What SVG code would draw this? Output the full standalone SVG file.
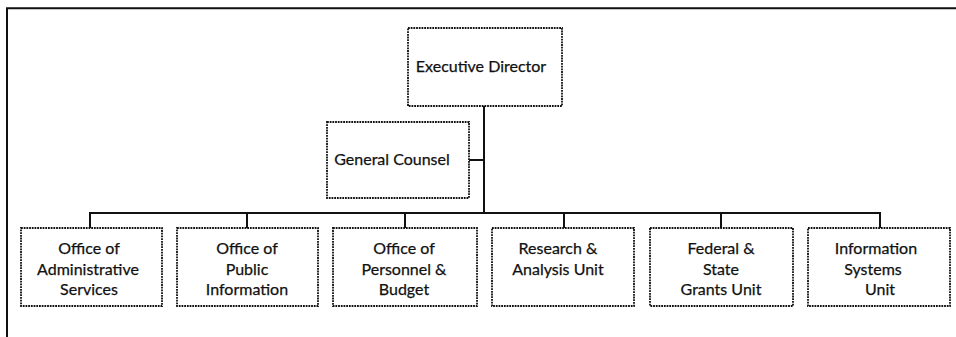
<svg xmlns="http://www.w3.org/2000/svg" width="956" height="337" viewBox="0 0 956 337">
<style>
.box{fill:#fff;stroke:#111;stroke-width:1.8;stroke-dasharray:1.8 0.9}
.ln{fill:none;stroke:#111;stroke-width:2}
text{font-family:Lato,"Open Sans","Liberation Sans",sans-serif;font-size:16px;fill:#111;stroke:#111;stroke-width:0.25;text-anchor:middle}
</style>
<rect width="956" height="337" fill="#fff"/>
<g id="frame"><path class="ln" d="M7,337 V8.3 H956" stroke-width="2.2"/></g>
<g id="connectors">
<path class="ln" d="M484,106 V213"/>
<path class="ln" d="M469,160 H484"/>
<path class="ln" d="M90,228 V213 H880 V228"/>
<path class="ln" d="M247,213 V228 M405,213 V228 M564,213 V228 M721,213 V228"/>
</g>
<g id="executive-director"><rect class="box" x="408" y="28" width="154" height="78"/><text x="481" y="72">Executive Director</text></g>
<g id="general-counsel"><rect class="box" x="327" y="122" width="142" height="76"/><text x="392" y="165">General Counsel</text></g>
<g id="admin-services"><rect class="box" x="21" y="228" width="141" height="78"/><text x="89" y="254">Office of</text><text x="88" y="275">Administrative</text><text x="89" y="295">Services</text></g>
<g id="public-info"><rect class="box" x="177" y="228" width="141" height="78"/><text x="247" y="254">Office of</text><text x="247" y="275">Public</text><text x="247" y="295">Information</text></g>
<g id="personnel-budget"><rect class="box" x="333" y="228" width="144" height="78"/><text x="404" y="254">Office of</text><text x="404" y="275">Personnel &amp;</text><text x="404" y="295">Budget</text></g>
<g id="research-analysis"><rect class="box" x="492" y="228" width="142" height="78"/><text x="558" y="254">Research &amp;</text><text x="558" y="275">Analysis Unit</text></g>
<g id="federal-state"><rect class="box" x="650" y="228" width="143" height="78"/><text x="721" y="254">Federal &amp;</text><text x="721" y="275">State</text><text x="721" y="295">Grants Unit</text></g>
<g id="info-systems"><rect class="box" x="808" y="228" width="142" height="78"/><text x="876" y="254">Information</text><text x="873" y="275">Systems</text><text x="880" y="295">Unit</text></g>
</svg>
